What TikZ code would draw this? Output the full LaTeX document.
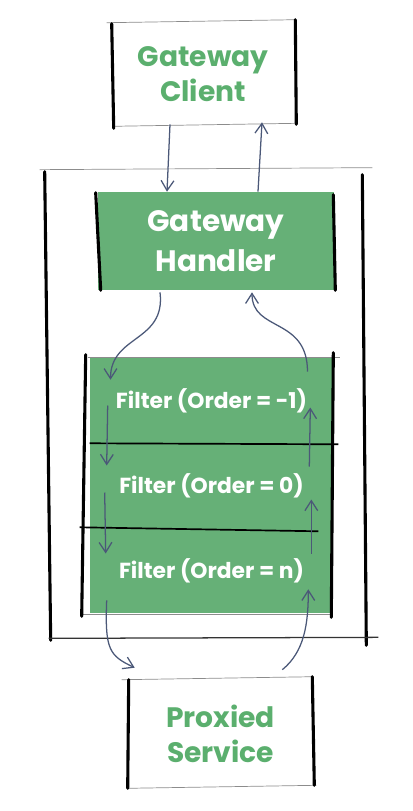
\documentclass[tikz,border=0pt]{standalone}
\usepackage{fontspec}
\setmainfont{Poppins}
\usetikzlibrary{calc,arrows.meta}
\definecolor{gwgreen}{HTML}{66B077}
\definecolor{gwtext}{HTML}{5BAF6E}
\definecolor{gwarrow}{HTML}{4B5878}
\begin{document}
\begin{tikzpicture}
[x=0.025cm,y=-0.025cm,%
  boxdecorate/.style={shape=rectangle,inner sep=0pt,align=center,font=\fontsize{20}{25}\selectfont\bfseries},%
  filterdecorate/.style={shape=rectangle,inner sep=0pt,fill=gwgreen,text=white,minimum width=6.075cm,minimum height=2.125cm,font=\fontsize{15.5}{18}\selectfont\bfseries},%
  thickside/.style={line width=2.2pt,black,line cap=round},%
  thinside/.style={line width=0.5pt,black!45},%
  linedecorate/.style={-{Straight Barb[length=2.5mm,width=3.2mm]},line width=0.9pt,gwarrow}]
\useasboundingbox (0,0) rectangle (413,811);
% nodes or boxes
\node (frame) at (205,405) [minimum width=8cm,minimum height=11.7cm,inner sep=0pt] {};
\node (client) at (203,74) [boxdecorate,text=gwtext,minimum width=4.6cm,minimum height=2.6cm] {Gateway\\Client};
\node (handler) at (216,241) [boxdecorate,fill=gwgreen,text=white,minimum width=5.9cm,minimum height=2.45cm,font=\fontsize{21}{28}\selectfont\bfseries] {Gateway\\Handler};
\node (f1) at (211.5,400.5) [filterdecorate] {Filter (Order = -1)};
\node (f2) at (211.5,485.5) [filterdecorate] {Filter (Order = 0)};
\node (f3) at (211.5,570.5) [filterdecorate] {Filter (Order = n)};
\node (service) at (220.5,734) [boxdecorate,text=gwtext,minimum width=4.625cm,minimum height=2.7cm] {Proxied\\Service};
% sketchy sides
\draw[thinside] ($(frame.north west)+(-5,-1)$) -- ($(frame.north east)+(7,-3)$);
\draw[thickside] ($(frame.north west)+(0,1)$) -- ($(frame.south west)+(6,1)$);
\draw[thickside] ($(frame.north east)+(-3,4)$) -- ($(frame.south east)+(1,6)$);
\draw[line width=0.9pt,black!80] ($(frame.south west)+(4,-1)$) -- ($(frame.south east)+(13,-2)$);
\draw[thinside] ($(client.north west)+(-4,1)$) -- ($(client.north east)+(0,-2)$);
\draw[thinside] ($(client.south west)+(2,0)$) -- ($(client.south east)+(2,-3)$);
\draw[thickside] ($(client.north west)+(1,2)$) -- ($(client.south west)+(3,2)$);
\draw[thickside] ($(client.north east)+(0,-2)$) -- ($(client.south east)+(1,-2)$);
\draw[thickside] ($(handler.north west)+(-2,1)$) -- ($(handler.south west)+(3,0)$);
\draw[thickside] ($(handler.north east)+(-1,3)$) -- ($(handler.south east)+(1,0)$);
\draw[thinside] ($(f1.north west)+(-2,0)$) -- ($(f1.north east)+(7,0)$);
\draw[line width=1.2pt,black] (f1.south west) -- ($(f1.south east)+(5,1)$);
\draw[line width=1.2pt,black] ($(f2.south west)+(-10,-1)$) -- ($(f2.south east)+(-15,3)$);
\draw[thinside] ($(f3.south west)+(-8,1)$) -- ($(f3.south east)+(0,1)$);
\draw[thickside] ($(f1.north west)+(-4,-3)$) -- ($(f3.south west)+(-8,3)$);
\draw[thickside] ($(f1.north east)+(0,-5)$) -- ($(f3.south east)+(-2,4)$);
\draw[thinside] ($(service.north west)+(-6,0)$) -- ($(service.north east)+(0,-3)$);
\draw[thinside] ($(service.south west)+(0,0)$) -- ($(service.south east)+(3,-3)$);
\draw[thickside] ($(service.north west)+(1,0)$) -- ($(service.south west)+(0,0)$);
\draw[thickside] ($(service.north east)+(-1,-3)$) -- ($(service.south east)+(1,-3)$);
% edges or arrows
\path
($(client.south)+(-33,-2)$) edge[linedecorate] ($(handler.north)+(-49,0)$)
($(handler.north)+(42,0)$) edge[linedecorate] ($(client.south)+(59,-4)$)
($(f1.west)+(18,5)$) edge[linedecorate] ($(f2.west)+(17,-20)$)
($(f2.west)+(15,7)$) edge[linedecorate] ($(f3.west)+(16,-17)$)
($(f2.east)+(-24,-19)$) edge[linedecorate] ($(f1.east)+(-23,7)$)
($(f3.east)+(-22,-17)$) edge[linedecorate] ($(f2.east)+(-22,14)$);
\draw[linedecorate] ($(handler.south)+(-56,2)$) .. controls +(6,50) and +(0,-45) .. ($(f1.north)+(-101,22)$);
\draw[linedecorate] ($(f1.north)+(96,14)$) .. controls +(0,-55) and +(0,40) .. ($(handler.south)+(36,2)$);
\draw[linedecorate] ($(f3.south west)+(17,-13)$) .. controls +(-2,50) and +(-25,-12) .. ($(service.north west)+(7,-12)$);
\draw[linedecorate] ($(service.north east)+(-31,-10)$) .. controls +(22,-18) and +(0,35) .. ($(f3.south east)+(-25,-24)$);
\end{tikzpicture}
\end{document}
